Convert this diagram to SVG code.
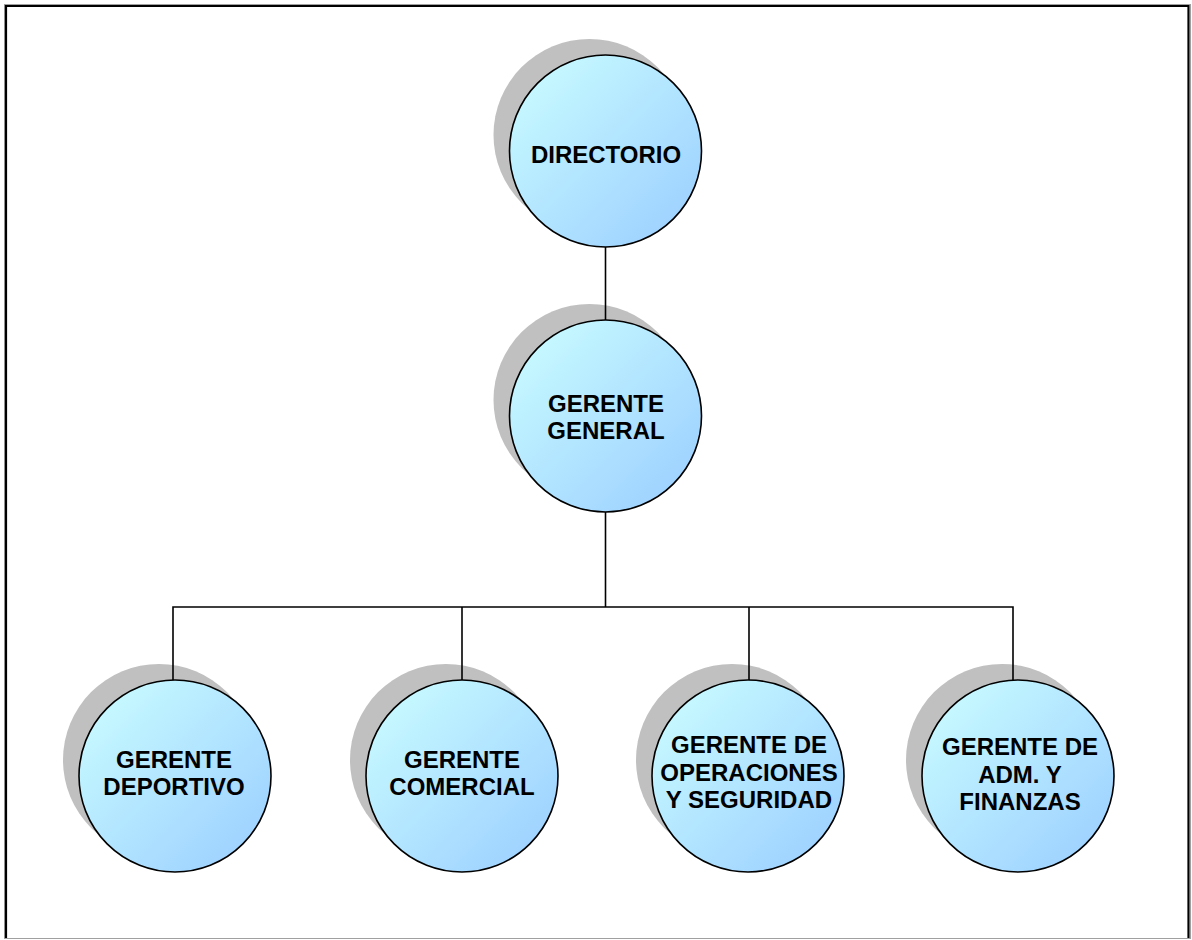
<svg xmlns="http://www.w3.org/2000/svg" width="1192" height="940" viewBox="0 0 1192 940">
  <defs>
    <linearGradient id="fill" x1="0" y1="0" x2="1" y2="1">
      <stop offset="0" stop-color="#ccffff"/>
      <stop offset="1" stop-color="#99ccff"/>
    </linearGradient>
    <style>
      .shadow { fill: #c0c0c0; }
      .disc { fill: url(#fill); stroke: #000; stroke-width: 1.6; }
      .label { font-family: "Liberation Sans", Arial, sans-serif; font-weight: bold; font-size: 24px; fill: #000; text-anchor: middle; }
      .wire { fill: none; stroke: #000; stroke-width: 1.6; }
    </style>
  </defs>

  <!-- page frame -->
  <rect x="0" y="0" width="1192" height="940" fill="#fff"/>
  <rect x="4.5" y="4.5" width="1186" height="934" fill="none" stroke="#a0a0a0" stroke-width="1"/>
  <polyline points="6,938 6,6 1188.5,6 1188.5,938" fill="none" stroke="#000" stroke-width="2.2"/>

  <g id="directorio">
    <circle class="shadow" cx="589.5" cy="135" r="96"/>
    <circle class="disc" cx="605.5" cy="151" r="96"/>
    <text class="label" x="606" y="163">DIRECTORIO</text>
  </g>

  <g id="gerente-general">
    <circle class="shadow" cx="589.5" cy="400" r="96"/>
    <circle class="disc" cx="605.5" cy="416" r="96"/>
    <text class="label" x="606" y="412">GERENTE</text>
    <text class="label" x="606" y="439">GENERAL</text>
  </g>

  <g id="gerente-deportivo">
    <circle class="shadow" cx="159" cy="760" r="96"/>
    <circle class="disc" cx="175" cy="776" r="96"/>
    <text class="label" x="174" y="768">GERENTE</text>
    <text class="label" x="174" y="795">DEPORTIVO</text>
  </g>

  <g id="gerente-comercial">
    <circle class="shadow" cx="446" cy="760" r="96"/>
    <circle class="disc" cx="462" cy="776" r="96"/>
    <text class="label" x="462" y="768">GERENTE</text>
    <text class="label" x="462" y="795">COMERCIAL</text>
  </g>

  <g id="gerente-operaciones">
    <circle class="shadow" cx="732" cy="760" r="96"/>
    <circle class="disc" cx="748" cy="776" r="96"/>
    <text class="label" x="749" y="753">GERENTE DE</text>
    <text class="label" x="749" y="781">OPERACIONES</text>
    <text class="label" x="749" y="808">Y SEGURIDAD</text>
  </g>

  <g id="gerente-finanzas">
    <circle class="shadow" cx="1002" cy="760" r="96"/>
    <circle class="disc" cx="1018" cy="776" r="96"/>
    <text class="label" x="1020" y="755">GERENTE DE</text>
    <text class="label" x="1020" y="783">ADM. Y</text>
    <text class="label" x="1020" y="810">FINANZAS</text>
  </g>

  <g id="connectors">
    <line class="wire" x1="605.5" y1="247" x2="605.5" y2="320"/>
    <line class="wire" x1="605.5" y1="512" x2="605.5" y2="607"/>
    <polyline class="wire" points="173,680 173,607 1013,607 1013,681"/>
    <line class="wire" x1="462" y1="607" x2="462" y2="680"/>
    <line class="wire" x1="749" y1="607" x2="749" y2="680"/>
  </g>
</svg>
